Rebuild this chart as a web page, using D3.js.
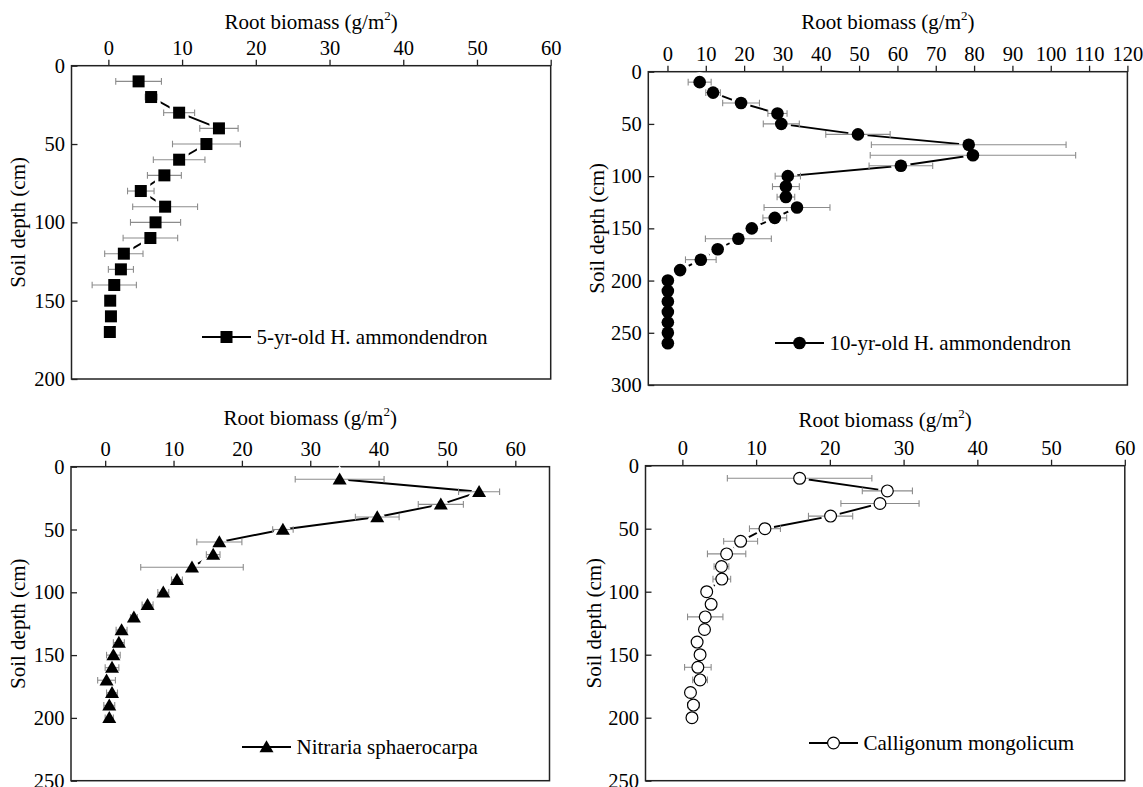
<!DOCTYPE html>
<html>
<head>
<meta charset="utf-8">
<script src="https://cdn.jsdelivr.net/npm/d3@7"></script>
<style>
  body { margin: 0; background: #fff; }
  svg { display: block; font-family: "Liberation Serif", "Times New Roman", serif; }
</style>
</head>
<body>
<div id="chart"></div>
<script>
// depth classes (cm) and root biomass (g/m2)
const depths5yr = [10, 20, 30, 40, 50, 60, 70, 80, 90, 100, 110, 120, 130, 140, 150, 160, 170];
const biomass5yr = [4.1, 5.8, 9.6, 15.0, 13.3, 9.6, 7.6, 4.4, 7.7, 6.4, 5.7, 2.1, 1.7, 0.8, 0.25, 0.35, 0.2];
const err5yr = [3.1, 0.8, 2.1, 2.6, 4.6, 3.5, 2.3, 1.8, 4.4, 3.4, 3.7, 2.6, 1.7, 3.0, 0, 0, 0];

const depths10yr = [10, 20, 30, 40, 50, 60, 70, 80, 90, 100, 110, 120, 130, 140, 150, 160, 170, 180, 190, 200, 210, 220, 230, 240, 250, 260];
const biomass10yr = [8.4, 11.9, 19.2, 28.7, 29.7, 49.7, 78.6, 79.7, 60.9, 31.4, 30.9, 30.9, 33.8, 28.0, 22.0, 18.5, 13.1, 8.7, 3.3, 0.1, 0.1, 0.1, 0.1, 0.1, 0.1, 0.1];
const err10yr = [3.0, 1.9, 4.8, 2.5, 4.7, 8.4, 25.4, 26.8, 8.3, 3.3, 3.5, 2.3, 8.6, 3.1, 0, 8.6, 0, 4.0, 0, 0, 0, 0, 0, 0, 0, 0];

const depthsNitraria = [10, 20, 30, 40, 50, 60, 70, 80, 90, 100, 110, 120, 130, 140, 150, 160, 170, 180, 190, 200];
const biomassNitraria = [34.3, 54.7, 49.1, 39.8, 26.0, 16.7, 15.8, 12.7, 10.5, 8.5, 6.2, 4.2, 2.4, 2.0, 1.2, 1.0, 0.2, 1.0, 0.6, 0.6];
const errNitraria = [6.5, 3.0, 3.3, 3.2, 1.5, 3.3, 1.0, 7.5, 0.8, 0.8, 0.8, 0.5, 0.8, 0.8, 1.0, 1.0, 1.3, 0.8, 0.8, 0.6];

const depthsCalligonum = [10, 20, 30, 40, 50, 60, 70, 80, 90, 100, 110, 120, 130, 140, 150, 160, 170, 180, 190, 200];
const biomassCalligonum = [15.9, 27.8, 26.8, 20.1, 11.2, 7.9, 6.0, 5.3, 5.35, 3.3, 3.9, 3.1, 3.0, 2.0, 2.4, 2.1, 2.4, 1.1, 1.5, 1.3];
const errCalligonum = [9.8, 3.4, 5.3, 3.0, 2.1, 2.3, 2.6, 1.0, 1.2, 0.5, 0.5, 2.4, 0.5, 0.6, 0.6, 1.8, 1.0, 0.4, 0.8, 0.6];

const xTicksA = [0, 10, 20, 30, 40, 50, 60];
const xTicksB = [0, 10, 20, 30, 40, 50, 60, 70, 80, 90, 100, 110, 120];

const xTitle = "Root biomass (g/m";
const yTitle = "Soil depth (cm)";

const W = 1143, H = 787;
const serif = "Liberation Serif, Times New Roman, serif";

const svg = d3.select("#chart").append("svg")
    .attr("width", W)
    .attr("height", H);

// one panel per species
const panels = [
  {name: "5-yr-old H. ammondendron", depth: depths5yr, value: biomass5yr, err: err5yr,
   x0: 71.5, x1: 550.7, y0: 65.7, y1: 379, xDom: [-5, 60], yDom: [0, 200], xTicks: xTicksA, yStep: 50,
   marker: "square", titleY: 29, yTitleX: 18, legX: 202, legY: 337},
  {name: "10-yr-old H. ammondendron", depth: depths10yr, value: biomass10yr, err: err10yr,
   x0: 648.3, x1: 1127.4, y0: 71.7, y1: 385, xDom: [-5, 120], yDom: [0, 300], xTicks: xTicksB, yStep: 50,
   marker: "circle", titleY: 29, yTitleX: 597, legX: 775, legY: 343},
  {name: "Nitraria sphaerocarpa", depth: depthsNitraria, value: biomassNitraria, err: errNitraria,
   x0: 71, x1: 549.5, y0: 466.7, y1: 780.7, xDom: [-5, 65], yDom: [0, 250], xTicks: xTicksA, yStep: 50,
   marker: "triangle", titleY: 425, yTitleX: 18, legX: 242, legY: 747},
  {name: "Calligonum mongolicum", depth: depthsCalligonum, value: biomassCalligonum, err: errCalligonum,
   x0: 645.5, x1: 1124.8, y0: 465.7, y1: 780.7, xDom: [-5, 60], yDom: [0, 250], xTicks: xTicksA, yStep: 50,
   marker: "open", titleY: 427, yTitleX: 594, legX: 809, legY: 743}
];

function drawMarker(g, type, x, y, halo) {
  let m;
  if (type === "square") {
    m = g.append("rect").attr("x", x - 6).attr("y", y - 6)
      .attr("width", 12).attr("height", 12).attr("fill", "#000");
  } else if (type === "circle") {
    m = g.append("circle").attr("cx", x).attr("cy", y).attr("r", 6.3).attr("fill", "#000");
  } else if (type === "triangle") {
    m = g.append("path")
      .attr("d", `M${x},${y - 6.8}L${x + 7},${y + 5.2}L${x - 7},${y + 5.2}Z`)
      .attr("fill", "#000");
  } else {
    m = g.append("circle").attr("cx", x).attr("cy", y).attr("r", 5.9)
      .attr("fill", "#fff").attr("stroke", "#000").attr("stroke-width", 1.2);
  }
  //white halo so the profile line stops short of the marker
  if (halo) m.attr("fill", "#fff").attr("stroke", "#fff").attr("stroke-width", 7);
}

panels.forEach(p => {
  const x = d3.scaleLinear().domain(p.xDom).range([p.x0, p.x1]);
  const y = d3.scaleLinear().domain(p.yDom).range([p.y0, p.y1]);
  const g = svg.append("g");

  //top axis, ticks pointing out
  const xAxis = g.append("g")
    .attr("transform", `translate(0,${p.y0})`)
    .call(d3.axisTop(x).tickValues(p.xTicks).tickSize(6).tickPadding(4.5).tickSizeOuter(0));
  xAxis.select(".domain").remove();
  xAxis.selectAll("line").attr("stroke", "#222").attr("stroke-width", 1.3);
  xAxis.selectAll("text").attr("font-size", 20.5).attr("fill", "#000").attr("font-family", serif);

  //left axis, ticks pointing in
  const yAxis = g.append("g")
    .attr("transform", `translate(${p.x0},0)`)
    .call(d3.axisLeft(y).tickValues(d3.range(p.yDom[0], p.yDom[1] + 1, p.yStep)).tickSize(-6).tickPadding(6.5).tickSizeOuter(0));
  yAxis.select(".domain").remove();
  yAxis.selectAll("line").attr("stroke", "#222").attr("stroke-width", 1.3);
  yAxis.selectAll("text").attr("font-size", 20.5).attr("fill", "#000").attr("font-family", serif);

  //frame
  g.append("rect")
    .attr("x", p.x0).attr("y", p.y0)
    .attr("width", p.x1 - p.x0).attr("height", p.y1 - p.y0)
    .attr("fill", "none").attr("stroke", "#222").attr("stroke-width", 1.5);

  //axis titles
  const t = g.append("text")
    .attr("x", (p.x0 + p.x1) / 2).attr("y", p.titleY)
    .attr("text-anchor", "middle").attr("font-size", 21);
  t.append("tspan").text(xTitle);
  t.append("tspan").attr("dy", -9).attr("font-size", 13).text("2");
  t.append("tspan").attr("dy", 9).text(")");

  g.append("text")
    .attr("transform", `translate(${p.yTitleX},${(p.y0 + p.y1) / 2}) rotate(-90)`)
    .attr("text-anchor", "middle").attr("dy", "0.35em").attr("font-size", 21)
    .text(yTitle);

  const pts = p.depth.map((d, i) => ({d: d, v: p.value[i], e: p.err[i]}));

  //profile line
  g.append("path")
    .datum(pts)
    .attr("fill", "none").attr("stroke", "#000").attr("stroke-width", 1.9)
    .attr("d", d3.line().x(o => x(o.v)).y(o => y(o.d)));

  const hg = g.append("g");
  pts.forEach(o => drawMarker(hg, p.marker, x(o.v), y(o.d), true));

  //error bars
  const eb = g.append("g").attr("stroke", "#8c8c8c").attr("stroke-width", 1.1).attr("fill", "none");
  pts.filter(o => o.e > 0).forEach(o => {
    const yy = y(o.d);
    eb.append("line").attr("x1", x(o.v - o.e)).attr("x2", x(o.v + o.e)).attr("y1", yy).attr("y2", yy);
    [o.v - o.e, o.v + o.e].forEach(vv => {
      eb.append("line").attr("x1", x(vv)).attr("x2", x(vv)).attr("y1", yy - 3.3).attr("y2", yy + 3.3);
    });
  });

  //markers
  const mg = g.append("g");
  pts.forEach(o => drawMarker(mg, p.marker, x(o.v), y(o.d), false));

  //legend
  const lg = g.append("g");
  lg.append("line").attr("x1", p.legX).attr("x2", p.legX + 49)
    .attr("y1", p.legY).attr("y2", p.legY).attr("stroke", "#000").attr("stroke-width", 1.8);
  drawMarker(lg, p.marker, p.legX + 24.5, p.legY, false);
  lg.append("text").attr("x", p.legX + 54.5).attr("y", p.legY).attr("dy", "0.35em")
    .attr("font-size", 21).text(p.name);
});
</script>
</body>
</html>
